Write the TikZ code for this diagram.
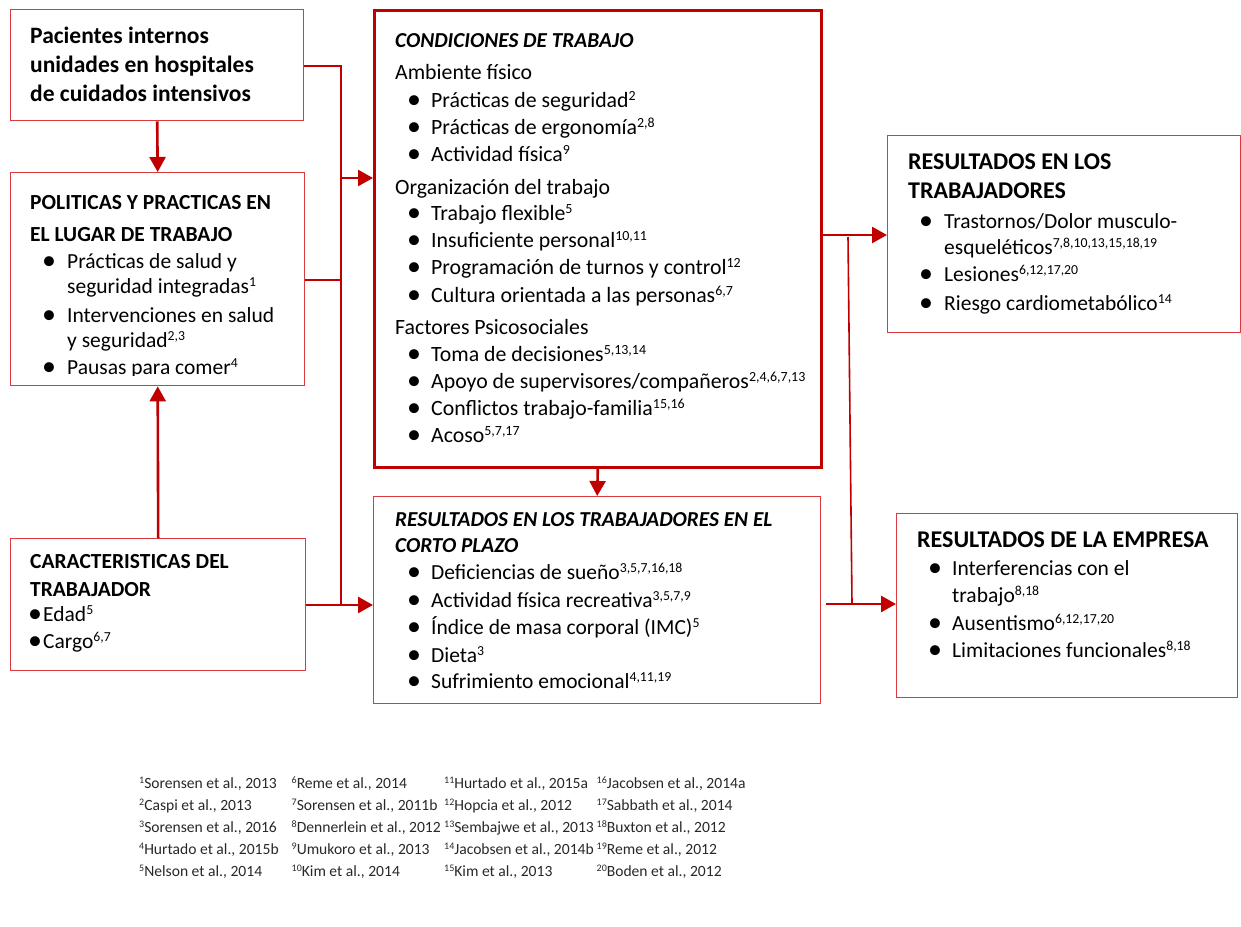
\documentclass[tikz,border=0pt]{standalone}
\usepackage{fontspec}
\setmainfont{Carlito}
\usetikzlibrary{arrows.meta}
\definecolor{linered}{RGB}{192,0,0}
\definecolor{boxred}{RGB}{218,58,62}
\definecolor{notegray}{RGB}{40,40,40}
\newcommand\sups[1]{\raisebox{0.62ex}{\scalebox{0.64}{#1}}}
\newcommand\fs[1]{\fontsize{#1}{#1}\selectfont}
\newcommand\bigbul{\raisebox{-0.09em}{\scalebox{1.3}{\textbullet}}}
\begin{document}
\begin{tikzpicture}[x=1pt,y=-1pt,
  box/.style={draw=boxred, line width=1.4pt, inner sep=0pt, anchor=north west},
  mainbox/.style={draw=linered, line width=2.6pt, inner sep=0pt, anchor=north west},
  conn/.style={draw=linered, line width=2.6pt},
  thinconn/.style={draw=linered, line width=1.6pt},
  arr/.style={conn, -{Triangle[length=15pt,width=16pt]}},
  ln/.style={anchor=base west, inner sep=0pt},
  ttlA/.style={ln, font=\fs{23.5}\bfseries},
  ttl/.style={ln, font=\fs{21.5}\bfseries},
  ttlit/.style={ln, font=\fs{21.3}\bfseries\itshape},
  ttlbig/.style={ln, font=\fs{24}\bfseries},
  itm/.style={ln, font=\fs{21.5}},
  itmD/.style={ln, font=\fs{21.8}},
  bul/.style={ln, font=\fs{21.5}},
  note/.style={ln, font=\fs{15.6}, text=notegray}]
\useasboundingbox (0,0) rectangle (1241,926);

% boxes
\node[box, minimum width=293pt, minimum height=111pt] (A) at (10,9) {};
\node[box, minimum width=294pt, minimum height=213pt] (B) at (10,172) {};
\node[box, minimum width=295pt, minimum height=132pt] (C) at (10,538) {};
\node[mainbox, minimum width=447pt, minimum height=457pt] (D) at (373,9) {};
\node[box, minimum width=447pt, minimum height=207pt] (E) at (373,496) {};
\node[box, minimum width=353pt, minimum height=197pt] (F) at (887,135) {};
\node[box, minimum width=341pt, minimum height=184pt] (G) at (896,513) {};

% A text
\node[ttlA] (A1) at (30,43) {Pacientes internos};
\node[ttlA] (A2) at (30,72) {unidades en hospitales};
\node[ttlA] (A3) at (30,101) {de cuidados intensivos};

% B text (clipped at the bottom as in the original)
\begin{scope}
\clip (10,172) rectangle (305,375);
\node[ttl] (B1) at (30,209) {POLITICAS Y PRACTICAS EN};
\node[ttl] (B2) at (30,241) {EL LUGAR DE TRABAJO};
\node[bul] (B3b) at (42,268) {\bigbul};
\node[itm] (B3) at (67,268) {Prácticas de salud y};
\node[itm] (B4) at (67,293) {seguridad integradas\sups{1}};
\node[bul] (B5b) at (42,322) {\bigbul};
\node[itm] (B5) at (67,322) {Intervenciones en salud};
\node[itm] (B6) at (67,347) {y seguridad\sups{2,3}};
\node[bul] (B7b) at (42,374) {\bigbul};
\node[itm] (B7) at (67,374) {Pausas para comer\sups{4}};
\end{scope}

% C text
\node[ttl] (C1) at (30,568) {CARACTERISTICAS DEL};
\node[ttl] (C2) at (30,596) {TRABAJADOR};
\node[bul] (C3b) at (28,621) {\bigbul};
\node[itm] (C3) at (43,621) {Edad\sups{5}};
\node[bul] (C4b) at (28,648) {\bigbul};
\node[itm] (C4) at (43,648) {Cargo\sups{6,7}};

% D text
\node[ttlit] (D0) at (395,47) {CONDICIONES DE TRABAJO};
\node[itmD] (D1) at (395,79) {Ambiente físico};
\node[bul] (D2b) at (407,107) {\bigbul};
\node[itmD] (D2) at (431,107) {Prácticas de seguridad\sups{2}};
\node[bul] (D3b) at (407,134) {\bigbul};
\node[itmD] (D3) at (431,134) {Prácticas de ergonomía\sups{2,8}};
\node[bul] (D4b) at (407,161) {\bigbul};
\node[itmD] (D4) at (431,161) {Actividad física\sups{9}};
\node[itmD] (D5) at (395,194) {Organización del trabajo};
\node[bul] (D6b) at (407,220) {\bigbul};
\node[itmD] (D6) at (431,220) {Trabajo flexible\sups{5}};
\node[bul] (D7b) at (407,247) {\bigbul};
\node[itmD] (D7) at (431,247) {Insuficiente personal\sups{10,11}};
\node[bul] (D8b) at (407,274) {\bigbul};
\node[itmD] (D8) at (431,274) {Programación de turnos y control\sups{12}};
\node[bul] (D9b) at (407,302) {\bigbul};
\node[itmD] (D9) at (431,302) {Cultura orientada a las personas\sups{6,7}};
\node[itmD] (D10) at (395,334) {Factores Psicosociales};
\node[bul] (D11b) at (407,361) {\bigbul};
\node[itmD] (D11) at (431,361) {Toma de decisiones\sups{5,13,14}};
\node[bul] (D12b) at (407,388) {\bigbul};
\node[itmD] (D12) at (431,388) {Apoyo de supervisores/compañeros\sups{2,4,6,7,13}};
\node[bul] (D13b) at (407,415) {\bigbul};
\node[itmD] (D13) at (431,415) {Conflictos trabajo-familia\sups{15,16}};
\node[bul] (D14b) at (407,442) {\bigbul};
\node[itmD] (D14) at (431,442) {Acoso\sups{5,7,17}};

% E text
\node[ttlit] (E0) at (395,526) {RESULTADOS EN LOS TRABAJADORES EN EL};
\node[ttlit] (E1) at (395,552) {CORTO PLAZO};
\node[bul] (E2b) at (407,579) {\bigbul};
\node[itm] (E2) at (431,579) {Deficiencias de sueño\sups{3,5,7,16,18}};
\node[bul] (E3b) at (407,607) {\bigbul};
\node[itm] (E3) at (431,607) {Actividad física recreativa\sups{3,5,7,9}};
\node[bul] (E4b) at (407,634) {\bigbul};
\node[itm] (E4) at (431,634) {Índice de masa corporal (IMC)\sups{5}};
\node[bul] (E5b) at (407,662) {\bigbul};
\node[itm] (E5) at (431,662) {Dieta\sups{3}};
\node[bul] (E6b) at (407,688) {\bigbul};
\node[itm] (E6) at (431,688) {Sufrimiento emocional\sups{4,11,19}};

% F text
\node[ttlbig] (F0) at (908,169) {RESULTADOS EN LOS};
\node[ttlbig] (F1) at (908,198) {TRABAJADORES};
\node[bul] (F2b) at (919,228) {\bigbul};
\node[itm] (F2) at (944,228) {Trastornos/Dolor musculo-};
\node[itm] (F3) at (944,254) {esqueléticos\sups{7,8,10,13,15,18,19}};
\node[bul] (F4b) at (919,281) {\bigbul};
\node[itm] (F4) at (944,281) {Lesiones\sups{6,12,17,20}};
\node[bul] (F5b) at (919,310) {\bigbul};
\node[itm] (F5) at (944,310) {Riesgo cardiometabólico\sups{14}};

% G text
\node[ttlbig] (G0) at (917,547) {RESULTADOS DE LA EMPRESA};
\node[bul] (G1b) at (928,575) {\bigbul};
\node[itm] (G1) at (952,575) {Interferencias con el};
\node[itm] (G2) at (952,602) {trabajo\sups{8,18}};
\node[bul] (G3b) at (928,630) {\bigbul};
\node[itm] (G3) at (952,630) {Ausentismo\sups{6,12,17,20}};
\node[bul] (G4b) at (928,657) {\bigbul};
\node[itm] (G4) at (952,657) {Limitaciones funcionales\sups{8,18}};

% connectors
\coordinate (jA) at (341,66);
\coordinate (jD) at (341,178);
\coordinate (jB) at (341,280);
\coordinate (jC) at (341,605);
\coordinate (jF) at (820,235);
\coordinate (t1) at (848,237);
\coordinate (t2) at (852,604);
\coordinate (g0) at (826,604);
\draw[conn] (A.east |- jA) -- (jA) -- (jC);
\draw[arr] (jD) -- (D.west |- jD);
\draw[conn] (B.east |- jB) -- (jB);
\draw[arr] (C.east |- jC) -- (E.west |- jC);
\draw[arr] (A.south) -- (B.north);
\draw[arr] (C.north) -- (B.south);
\draw[arr] (D.south) -- (E.north);
\draw[arr] (jF) -- (F.west |- jF);
\draw[thinconn] (t1) -- (t2);
\draw[arr] (g0) -- (G.west |- g0);

% references
\foreach \n/\t [count=\i from 0] in {
 1/{Sorensen et al., 2013}, 2/{Caspi et al., 2013}, 3/{Sorensen et al., 2016},
 4/{Hurtado et al., 2015b}, 5/{Nelson et al., 2014},
 6/{Reme et al., 2014}, 7/{Sorensen et al., 2011b}, 8/{Dennerlein et al., 2012},
 9/{Umukoro et al., 2013}, 10/{Kim et al., 2014},
 11/{Hurtado et al., 2015a}, 12/{Hopcia et al., 2012}, 13/{Sembajwe et al., 2013},
 14/{Jacobsen et al., 2014b}, 15/{Kim et al., 2013},
 16/{Jacobsen et al., 2014a}, 17/{Sabbath et al., 2014}, 18/{Buxton et al., 2012},
 19/{Reme et al., 2012}, 20/{Boden et al., 2012}}
{
 \pgfmathsetmacro\cx{139+152.5*int(\i/5)}
 \pgfmathsetmacro\cy{788+22*mod(\i,5)}
 \node[note] (ref\n) at (\cx,\cy) {\sups{\n}\t};
}
\end{tikzpicture}
\end{document}
